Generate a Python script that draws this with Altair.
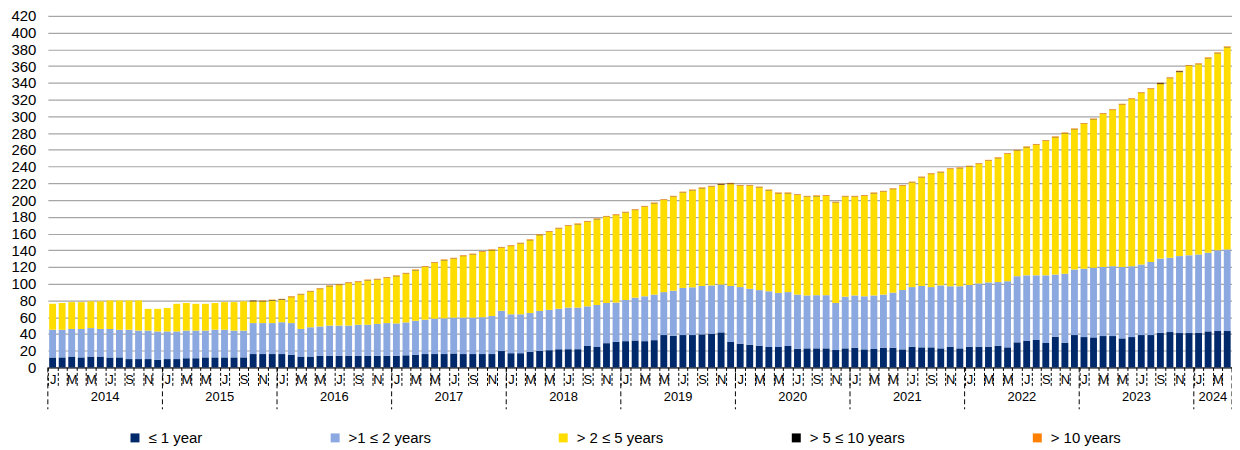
import altair as alt
import pandas as pd

# ---- categories -------------------------------------------------------
months = [d.strftime("%Y-%m") for d in pd.date_range("2014-01-01", "2024-04-01", freq="MS")]
series_names = ["≤ 1 year", ">1 ≤ 2 years", "> 2 ≤ 5 years", "> 5 ≤ 10 years", "> 10 years"]
series_colors = ["#00296B", "#8CA8E0", "#FFDD00", "#000000", "#FF8000"]
year_labels = ["2014", "2015", "2016", "2017", "2018", "2019", "2020", "2021", "2022", "2023", "2024"]

# ---- series values ----------------------------------------------------
le1 = (
    [12, 12, 13, 12, 13, 13, 12, 12, 10, 10, 10, 9]
    + [10, 10, 11, 11, 12, 12, 12, 12, 12, 16, 16, 16]
    + [16, 15, 13, 13, 14, 14, 14, 14, 14, 14, 14, 14]
    + [14, 14.5, 15, 16, 16, 16, 16.7, 16, 16, 16, 16, 19.6]
    + [17, 17, 18.6, 19.8, 20.6, 21.8, 21.8, 21.8, 25.6, 24.4, 29, 30.6]
    + [31.4, 32.2, 31.4, 32.6, 38.7, 37.9, 38.7, 38.7, 39.5, 40.3, 41.9, 30.4]
    + [28.4, 27.2, 26, 24.4, 24.4, 25.6, 22.4, 22.8, 22.8, 22.8, 20.8, 22.8]
    + [23.6, 21.6, 22, 23.6, 23.6, 21.6, 24.8, 24, 24, 22.8, 24.8, 22.8]
    + [24.8, 24.8, 24.8, 26, 24, 30, 31.6, 32.8, 29.2, 36.7, 29.6, 38.7]
    + [36.3, 35.9, 37.5, 37.5, 34.7, 36.3, 38.7, 38.7, 41.5, 42.3, 41.1, 41.1]
    + [41.5, 43.1, 43.5, 43.5]
)
gt1_le2 = (
    [33, 33, 33, 34, 34, 33, 34, 33, 35, 34, 34, 34]
    + [33, 33, 33, 33, 32, 33, 33, 32, 32, 37, 37, 37]
    + [38, 38, 33, 35, 35, 36, 36, 36, 37, 37, 38, 39]
    + [38.6, 39.3, 40.8, 41, 42.3, 42.7, 42.8, 43.5, 43.5, 44, 45.5, 48.1]
    + [46.5, 46.5, 46.4, 47.7, 48.2, 48.2, 49.7, 49.7, 47.4, 50.2, 48, 46.9]
    + [49.2, 51.2, 53.6, 54.4, 51.3, 53.8, 56.3, 57, 57.8, 57.7, 57.1, 66.9]
    + [67.6, 66.8, 66.4, 66.6, 64.6, 64.4, 64.6, 63.2, 63.5, 63.5, 56.2, 61.7]
    + [62.4, 63.4, 64, 63.4, 65.8, 70.9, 71.2, 73.3, 72, 75.2, 72.2, 74.2]
    + [73.7, 75.6, 76.8, 76, 79, 79, 78.4, 77.2, 80.8, 74.3, 82.4, 78.3]
    + [81.7, 83.1, 82.5, 83.5, 85.3, 84.7, 84.3, 87.3, 88.5, 88.7, 91.9, 92.9]
    + [93.5, 93.9, 96.5, 97.5]
)
gt2_le5 = (
    [31, 32, 32, 32, 32, 33, 34, 35, 35, 36, 26, 27]
    + [28, 33, 33, 32, 32, 32, 33, 34, 35, 26, 26, 27]
    + [27, 31, 41, 42.5, 44.6, 47, 48.4, 50.8, 51, 53, 53, 54]
    + [56.4, 58.2, 60.2, 63, 66.7, 69.3, 70.5, 73.5, 75.5, 78, 78.5, 75.3]
    + [81.5, 84.5, 87, 90.5, 93.2, 96, 97.5, 99.5, 101, 102.4, 103, 104.5]
    + [104.4, 104.6, 107, 109, 110, 112.3, 114, 115.8, 116.7, 118, 119, 121.7]
    + [121, 123, 122.6, 120.5, 119, 118, 119, 118, 118.2, 118.7, 120, 119.5]
    + [118, 120, 122, 123, 123.6, 124.5, 125, 129.7, 135, 135, 140, 141]
    + [141.5, 142.6, 145.4, 148, 152, 150, 153, 156, 160.6, 164, 167.7, 167.5]
    + [173, 177.4, 182.8, 186.5, 194, 199.6, 204.8, 206.6, 208.5, 214.6, 219.8, 226.3]
    + [227.3, 232.4, 235.4, 241.5]
)
gt5_le10 = (
    [0, 0, 0, 0, 0, 0, 0, 0, 0, 0, 0, 0]
    + [0, 0, 0, 0, 0, 0, 0, 0, 0, 0.8, 0.5, 0.5]
    + [0.6, 0.3, 0.3, 0.3, 0.3, 0.3, 0.3, 0.3, 0.3, 0.3, 0.3, 0.3]
    + [0.3, 0.3, 0.3, 0.3, 0.3, 0.3, 0.3, 0.3, 0.3, 0.3, 0.3, 0.3]
    + [0.3, 0.3, 0.3, 0.3, 0.3, 0.3, 0.3, 0.3, 0.3, 0.3, 0.3, 0.3]
    + [0.3, 0.3, 0.3, 0.3, 0.3, 0.3, 0.3, 0.3, 0.3, 0.3, 0.8, 0.8]
    + [0.3, 0.3, 0.3, 0.3, 0.3, 0.3, 0.3, 0.3, 0.3, 0.3, 0.3, 0.3]
    + [0.3, 0.3, 0.3, 0.3, 0.3, 0.3, 0.3, 0.3, 0.3, 0.3, 0.3, 0.3]
    + [0.3, 0.3, 0.3, 0.3, 0.3, 0.3, 0.3, 0.3, 0.3, 0.3, 0.3, 0.3]
    + [0.3, 0.3, 0.3, 0.3, 0.3, 0.3, 0.3, 0.3, 1.0, 0.3, 1.0, 0.3]
    + [0.3, 0.3, 0.3, 0.3]
)
gt10 = (
    [0, 0, 0, 0, 0, 0, 0, 0, 0, 0, 0, 0]
    + [0, 0, 0, 0, 0, 0, 0, 0, 0, 0.2, 0.5, 0.5]
    + [0.4, 0.7, 0.7, 0.7, 0.7, 0.7, 0.7, 0.7, 0.7, 0.7, 0.7, 0.7]
    + [0.7, 0.7, 0.7, 0.7, 0.7, 0.7, 0.7, 0.7, 0.7, 0.7, 0.7, 0.7]
    + [0.7, 0.7, 0.7, 0.7, 0.7, 0.7, 0.7, 0.7, 0.7, 0.7, 0.7, 0.7]
    + [0.7, 0.7, 0.7, 0.7, 0.7, 0.7, 0.7, 0.7, 0.7, 0.7, 0.7, 0.7]
    + [0.7, 0.7, 0.7, 0.7, 0.7, 0.7, 0.7, 0.7, 0.7, 0.7, 0.7, 0.7]
    + [0.7, 0.7, 0.7, 0.7, 0.7, 0.7, 0.7, 0.7, 0.7, 0.7, 0.7, 0.7]
    + [0.7, 0.7, 0.7, 0.7, 0.7, 0.7, 0.7, 0.7, 0.7, 0.7, 0.7, 0.7]
    + [0.7, 0.7, 0.7, 0.7, 0.7, 0.7, 0.7, 0.7, 0.7, 0.7, 0.7, 0.7]
    + [0.7, 0.7, 0.7, 0.7]
)

y_ticks = list(range(0, 421, 20))

# ---- tables -----------------------------------------------------------
rows = []
all_series = [le1, gt1_le2, gt2_le5, gt5_le10, gt10]
for k, m in enumerate(months):
    for s, (name, vals) in enumerate(zip(series_names, all_series)):
        rows.append({"month": m, "series": name, "order": s, "value": vals[k]})
df = pd.DataFrame(rows)

year_starts = pd.DataFrame({"month": [y + "-01" for y in year_labels]})
year_end = pd.DataFrame({"month": [months[-1]]})
year_mid = []
for y in year_labels:
    ms = [m for m in months if m.startswith(y)]
    year_mid.append(ms[len(ms) // 2])
year_text = pd.DataFrame({"month": year_mid, "year": year_labels})

FONT = "Liberation Sans, Arial, sans-serif"

# guard against the extra (value-less) tick that tickBand 'extent' adds
month_label = (
    "isString(datum.value) && (toNumber(slice(datum.value,5,7)) % 2 == 1) ? "
    "slice('JFMAMJJASOND', toNumber(slice(datum.value,5,7))-1, toNumber(slice(datum.value,5,7))) : ''"
)

x_scale = alt.Scale(domain=months, paddingInner=0, paddingOuter=0)
H = 353

month_axis = alt.Axis(
    orient="bottom",
    title=None,
    domain=True,
    domainColor="#000000",
    domainWidth=1,
    ticks=True,
    tickBand="extent",
    tickSize=20,
    tickColor="#000000",
    tickWidth=1,
    tickDash=[3, 2],
    labelExpr=month_label,
    labelAngle=0,
    labelPadding=-14,
    labelFont=FONT,
    labelFontSize=13,
    labelColor="#000000",
    labelOverlap=False,
    grid=False,
)

x_enc = alt.X("month:O", title=None, scale=x_scale, axis=month_axis)

bars = alt.Chart(df).mark_bar(width=alt.RelativeBandSize(0.72)).encode(
    x=x_enc,
    y=alt.Y(
        "value:Q",
        title=None,
        stack="zero",
        scale=alt.Scale(domain=[0, 420], nice=False),
        axis=alt.Axis(
            values=y_ticks,
            domain=False,
            ticks=False,
            labelPadding=12,
            labelFont=FONT,
            labelFontSize=15,
            labelColor="#000000",
            grid=True,
            gridColor="#a6a6a6",
            gridWidth=1.2,
        ),
    ),
    color=alt.Color(
        "series:N",
        scale=alt.Scale(domain=series_names, range=series_colors),
        legend=alt.Legend(
            title=None,
            orient="none",
            legendX=80,
            legendY=416,
            direction="horizontal",
            columns=5,
            columnPadding=125,
            symbolType="square",
            symbolSize=81,
            symbolStrokeWidth=0,
            symbolOpacity=1,
            labelFont=FONT,
            labelFontSize=15,
            labelColor="#000000",
            labelOffset=6,
            padding=0,
        ),
    ),
    order=alt.Order("order:Q", sort="ascending"),
)

sep_start = alt.Chart(year_starts).mark_rule(
    color="#000000", strokeWidth=1, strokeDash=[5, 3]
).encode(
    x=alt.X("month:O", title=None, scale=x_scale, axis=month_axis, bandPosition=0),
    y=alt.value(H),
    y2=alt.value(H + 42),
)
sep_end = alt.Chart(year_end).mark_rule(
    color="#000000", strokeWidth=1, strokeDash=[5, 3]
).encode(
    x=alt.X("month:O", title=None, scale=x_scale, axis=month_axis, bandPosition=1),
    y=alt.value(H),
    y2=alt.value(H + 42),
)
years = alt.Chart(year_text).mark_text(
    font=FONT, fontSize=13, color="#000000", align="center", baseline="middle"
).encode(
    x=alt.X("month:O", title=None, scale=x_scale, axis=month_axis, bandPosition=0),
    y=alt.value(H + 30),
    text="year:N",
)

chart = (
    alt.layer(bars, sep_start, sep_end, years)
    .properties(
        width=1189,
        height=H,
        autosize=alt.AutoSizeParams(type="none"),
        padding={"left": 40, "top": 7, "right": 0, "bottom": 85},
    )
    .configure_view(stroke=None)
)

chart.save("out.html", embed_options={"renderer": "svg", "actions": False})
